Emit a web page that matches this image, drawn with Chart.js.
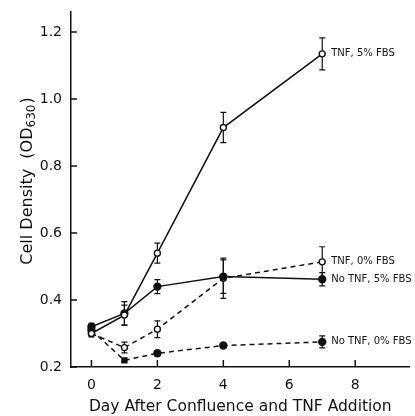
<!DOCTYPE html>
<html>
<head>
<meta charset="utf-8">
<script src="https://cdn.jsdelivr.net/npm/chart.js@4.4.0/dist/chart.umd.min.js"></script>
<style>
  html, body { margin: 0; padding: 0; background: #fff; }
  #wrap { width: 415px; height: 416px; }
</style>
</head>
<body>
<div id="wrap"><canvas id="growth" width="415" height="416"></canvas></div>
<script>
// valores
const days = [0, 1, 2, 4, 7];
const xTicks = [0, 2, 4, 6, 8];
const yTicks = [0.2, 0.4, 0.6, 0.8, 1.0, 1.2];

const tnf5 = [0.30, 0.355, 0.54, 0.915, 1.135];
const tnf5Err = [0.01, 0.03, 0.03, 0.045, 0.048];
const noTnf5 = [0.32, 0.36, 0.44, 0.47, 0.462];
const noTnf5Err = [0.01, 0.035, 0.021, 0.05, 0.02];
const tnf0 = [0.30, 0.258, 0.313, 0.465, 0.514];
const tnf0Err = [0, 0.016, 0.025, 0.06, 0.045];
const noTnf0 = [0.31, 0.22, 0.241, 0.264, 0.275];
const noTnf0Err = [0, 0, 0.008, 0.006, 0.018];

const seriesNames = ['TNF, 5% FBS', 'No TNF, 5% FBS', 'TNF, 0% FBS', 'No TNF, 0% FBS'];

const font = "'DejaVu Sans', sans-serif";

function pts(vals) {
    return days.map((d, i) => ({ x: d, y: vals[i] }));
}

function makeSet(name, vals, errs, open, dashed) {
    return {
        label: name,
        data: pts(vals),
        errors: errs,
        borderColor: '#111',
        borderWidth: 1.5,
        borderDash: dashed ? [5, 4] : [],
        backgroundColor: open ? '#fff' : '#111',
        pointBackgroundColor: open ? '#fff' : '#111',
        pointBorderColor: '#111',
        pointBorderWidth: 1.4,
        pointRadius: open ? 3 : 3.5,
        pointStyle: 'circle',
        tension: 0,
        fill: false
    };
}

const datasets = [
    makeSet(seriesNames[0], tnf5, tnf5Err, true, false),
    makeSet(seriesNames[1], noTnf5, noTnf5Err, false, false),
    makeSet(seriesNames[2], tnf0, tnf0Err, true, true),
    makeSet(seriesNames[3], noTnf0, noTnf0Err, false, true)
];
datasets[3].pointStyle = ['circle', 'rect', 'circle', 'circle', 'circle'];

// barras de erro, ticks para dentro, título do eixo y e rótulos das séries
const extras = {
    id: 'extras',
    beforeDatasetsDraw(chart) {
        const ctx = chart.ctx;
        const xs = chart.scales.x, ys = chart.scales.y;
        ctx.save();
        ctx.strokeStyle = '#111';
        ctx.lineWidth = 1.2;
        chart.data.datasets.forEach(ds => {
            ds.data.forEach((p, i) => {
                const e = ds.errors[i];
                if (!e) return;
                const px = xs.getPixelForValue(p.x);
                const top = ys.getPixelForValue(p.y + e);
                const bot = ys.getPixelForValue(p.y - e);
                ctx.beginPath();
                ctx.moveTo(px, top); ctx.lineTo(px, bot);
                ctx.moveTo(px - 3, top); ctx.lineTo(px + 3, top);
                ctx.moveTo(px - 3, bot); ctx.lineTo(px + 3, bot);
                ctx.stroke();
            });
        });
        // ticks
        ctx.lineWidth = 1.5;
        ctx.beginPath();
        yTicks.forEach(v => {
            const py = ys.getPixelForValue(v);
            ctx.moveTo(xs.left, py); ctx.lineTo(xs.left + 6, py);
        });
        xTicks.forEach(v => {
            const px = xs.getPixelForValue(v);
            ctx.moveTo(px, ys.bottom); ctx.lineTo(px, ys.bottom - 7);
        });
        ctx.stroke();

        // título do eixo y com subscrito
        const main = 'Cell Density  (OD';
        const sub = '630';
        const close = ')';
        const big = '16px ' + font, small = '12px ' + font;
        ctx.font = big; const w1 = ctx.measureText(main).width; const w3 = ctx.measureText(close).width;
        ctx.font = small; const w2 = ctx.measureText(sub).width;
        const total = w1 + w2 + w3;
        ctx.translate(28, (ys.top + ys.bottom) / 2 - 8);
        ctx.rotate(-Math.PI / 2);
        ctx.fillStyle = '#111';
        ctx.textBaseline = 'middle';
        let x0 = -total / 2;
        ctx.font = big; ctx.fillText(main, x0, 0);
        ctx.font = small; ctx.fillText(sub, x0 + w1, 4);
        ctx.font = big; ctx.fillText(close, x0 + w1 + w2 + 1, 0);
        ctx.restore();
    },
    afterDatasetsDraw(chart) {
        const ctx = chart.ctx;
        const xs = chart.scales.x, ys = chart.scales.y;
        ctx.save();
        ctx.fillStyle = '#111';
        ctx.font = '10px ' + font;
        ctx.textBaseline = 'middle';
        chart.data.datasets.forEach(ds => {
            const last = ds.data[ds.data.length - 1];
            ctx.fillText(ds.label, xs.getPixelForValue(last.x) + 9, ys.getPixelForValue(last.y));
        });
        ctx.restore();
    }
};

const growthCtx = document.getElementById('growth').getContext('2d');
const growth = new Chart(growthCtx, {
    type: 'line',
    data: { datasets: datasets },
    options: {
        responsive: false,
        animation: false,
        layout: { padding: { top: 12, right: 2, left: 0, bottom: 0 } },
        plugins: { legend: { display: false }, tooltip: { enabled: false } },
        scales: {
            x: {
                type: 'linear',
                min: -0.62,
                max: 9.65,
                afterBuildTicks: s => { s.ticks = xTicks.map(v => ({ value: v })); },
                afterFit: s => { s.height = 49; },
                grid: { display: false },
                border: { display: true, color: '#111', width: 1.5 },
                ticks: { color: '#111', font: { family: font, size: 14 }, padding: 2, maxRotation: 0 },
                title: {
                    display: true,
                    text: 'Day After Confluence and TNF Addition',
                    color: '#111',
                    font: { family: font, size: 15.5 },
                    padding: { top: 3, bottom: 0 }
                }
            },
            y: {
                min: 0.2,
                max: 1.26,
                afterBuildTicks: s => { s.ticks = yTicks.map(v => ({ value: v })); },
                afterFit: s => { s.width = 71; },
                grid: { display: false },
                border: { display: true, color: '#111', width: 1.5 },
                ticks: {
                    color: '#111',
                    font: { family: font, size: 14 },
                    padding: 1,
                    callback: v => v.toFixed(1)
                },
                title: { display: false }
            }
        }
    },
    plugins: [extras]
});
</script>
</body>
</html>
